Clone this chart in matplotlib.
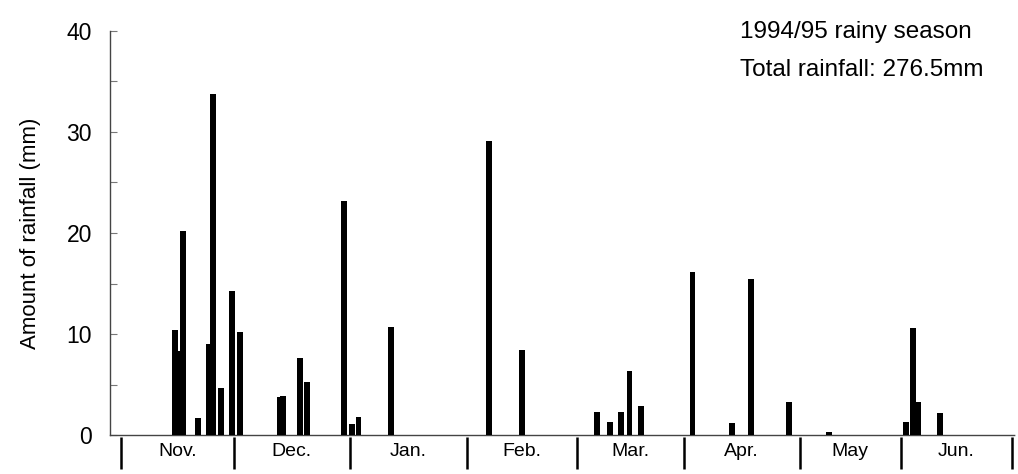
import matplotlib
matplotlib.use("Agg")
import matplotlib.pyplot as plt
import matplotlib.transforms as mtransforms

plt.rcParams['font.family'] = ['Liberation Sans', 'DejaVu Sans']

# Month boundaries (day of season) and labels
month_bounds = [0, 30.55, 62.2, 93.9, 123.8, 152.8, 184.3, 211.8, 242]
month_labels = ["Nov.", "Dec.", "Jan.", "Feb.", "Mar.", "Apr.", "May", "Jun."]

# Daily rainfall events: position (day of season) and amount (mm)
rain_day = [14.58, 15.67, 16.89, 20.78, 23.74, 25.04, 27.08, 30.15, 32.24,
            43.2, 43.9, 48.6, 50.5, 60.5, 62.8, 64.5,
            73.4,
            99.9, 108.9,
            129.2, 132.8, 135.9, 138.1, 141.1,
            155.2, 166.0, 171.2, 181.3,
            192.3,
            213.3, 215.2, 216.6, 222.4]
rain_mm = [10.4, 8.3, 20.2, 1.7, 9.0, 33.8, 4.65, 14.3, 10.2,
           3.8, 3.85, 7.6, 5.2, 23.2, 1.1, 1.8,
           10.7,
           29.1, 8.4,
           2.25, 1.25, 2.3, 6.3, 2.9,
           16.1, 1.15, 15.4, 3.3,
           0.3,
           1.3, 10.55, 3.25, 2.2]

y_ticks = [0, 10, 20, 30, 40]

fig = plt.figure(figsize=(10.18, 4.74), dpi=100)
W, H = 1018, 474
ax = fig.add_axes([110 / W, 1 - 435 / H, (1015 - 110) / W, (435 - 31) / H])

ax.bar(rain_day, rain_mm, width=1.6, color='black', zorder=3)

ax.set_xlim(-3.0, 242.8)
ax.set_ylim(0, 40)

for s in ['top', 'right']:
    ax.spines[s].set_visible(False)
for s in ['left', 'bottom']:
    ax.spines[s].set_linestyle((0, (1, 1)))
    ax.spines[s].set_color('#444444')
    ax.spines[s].set_linewidth(1.0)

ax.set_yticks(y_ticks)
ax.set_yticks([5, 15, 25, 35], minor=True)
ax.tick_params(axis='y', which='both', direction='in', length=5, width=0.8,
               color='#777777', labelsize=16.5, pad=13)
ax.set_xticks([])

ax.set_ylabel("Amount of rainfall (mm)", fontsize=16, labelpad=18)

# month separators below the axis
trans = mtransforms.blended_transform_factory(ax.transData, ax.transAxes)
sep_bottom = -(470 - 436) / (435 - 31)
for b in month_bounds:
    ax.plot([b, b], [-0.004, sep_bottom], transform=trans, color='black',
            lw=1.8, clip_on=False, solid_capstyle='butt')
for i, lab in enumerate(month_labels):
    mid = (month_bounds[i] + month_bounds[i + 1]) / 2
    ax.text(mid, -(452 - 435) / (435 - 31), lab, transform=trans,
            ha='center', va='center', fontsize=14)

fig.text(740 / W, 1 - 32 / H, "1994/95 rainy season", fontsize=17.5,
         ha='left', va='center')
fig.text(740 / W, 1 - 70 / H, "Total rainfall: 276.5mm", fontsize=17.5,
         ha='left', va='center')

fig.savefig("out.png", dpi=100)
